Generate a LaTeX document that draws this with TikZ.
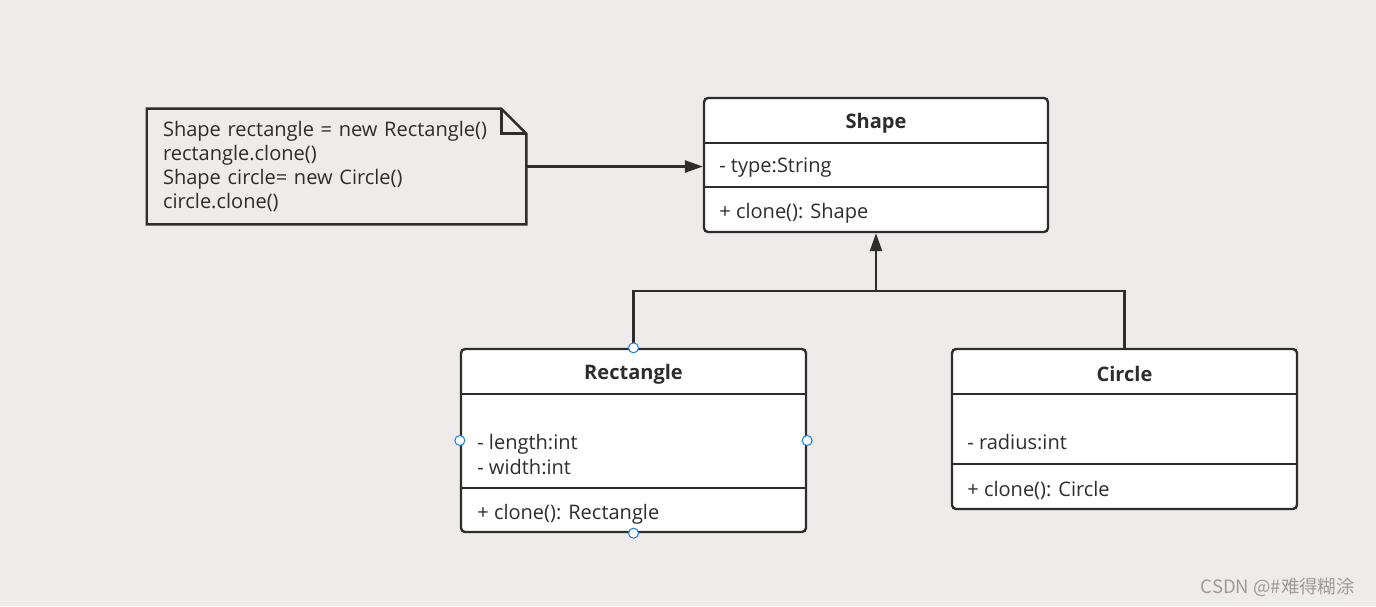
\documentclass[tikz,border=0pt]{standalone}
\usepackage{fontspec}
\setmainfont{Open Sans}
\newfontfamily\cjkfont{Noto Sans CJK SC}
\usetikzlibrary{arrows.meta}

\definecolor{fon}{RGB}{239,235,234}
\definecolor{liniya}{RGB}{45,45,45}
\definecolor{ruchka}{RGB}{30,130,230}
\definecolor{podpis}{RGB}{155,155,155}

\tikzset{
	klass/.style={draw=liniya, fill=white, line width=1.35pt, rounded corners=0.08cm, inner sep=0pt},
	razdel/.style={draw=liniya, line width=1.35pt},
	zagolovok/.style={text=liniya, yshift=-0.04cm, font=\bfseries\fontsize{11.4}{13.7}\selectfont},
	pole/.style={text=liniya, anchor=west, align=left, inner sep=0pt, yshift=-0.04cm, font=\fontsize{11.4}{13.7}\selectfont},
	svyaz/.style={draw=liniya, line width=1.35pt},
	strelka/.style={svyaz, -{Triangle[length=0.36cm, width=0.24cm]}},
	ruchki/.style={draw=ruchka, fill=white, line width=0.6pt}
}

\begin{document}
\begin{tikzpicture}[x=0.02cm, y=-0.02cm]
					% Фон и границы рисунка
					\fill[fon] (0,0) rectangle (1376,606);
					\useasboundingbox (0,0) rectangle (1376,606);
					
					% Заметка с кодом клиента
					\node[pole, anchor=center, minimum width=7.58cm, minimum height=2.30cm, text width=6.94cm] (zametka) at (336.5,164.5)
						{Shape rectangle = new Rectangle()\\rectangle.clone()\\Shape circle= new Circle()\\circle.clone()};
					\draw[svyaz] (zametka.north west) -- ([xshift=-0.5cm]zametka.north east) -- ([yshift=-0.5cm]zametka.north east)
						-- (zametka.south east) -- (zametka.south west) -- cycle;
					\draw[svyaz] ([xshift=-0.5cm]zametka.north east) |- ([yshift=-0.5cm]zametka.north east);
					
					% Класс Shape
					\node[klass, minimum width=6.88cm, minimum height=2.68cm] (shape) at (876,165) {};
					\draw[razdel] (shape.west |- 0,143) -- (shape.east |- 0,143);
					\draw[razdel] (shape.west |- 0,187) -- (shape.east |- 0,187);
					\node[zagolovok] (shapeimya) at (876,121) {Shape};
					\node[pole] (shapepole) at (719,166) {- type:String};
					\node[pole] (shapemetod) at (719,211) {+ clone(): Shape};
					
					% Класс Rectangle
					\node[klass, minimum width=6.90cm, minimum height=3.66cm] (rect) at (633.5,440.5) {};
					\draw[razdel] (rect.west |- 0,394) -- (rect.east |- 0,394);
					\draw[razdel] (rect.west |- 0,488) -- (rect.east |- 0,488);
					\node[zagolovok] (rectimya) at (633.5,372) {Rectangle};
					\node[pole] (rectpole) at (477,452.5) {- length:int\\- width:int};
					\node[pole] (rectmetod) at (477,512) {+ clone(): Rectangle};
					
					% Класс Circle
					\node[klass, minimum width=6.90cm, minimum height=3.20cm] (circ) at (1124.5,429) {};
					\draw[razdel] (circ.west |- 0,394) -- (circ.east |- 0,394);
					\draw[razdel] (circ.west |- 0,464) -- (circ.east |- 0,464);
					\node[zagolovok] (circimya) at (1124.5,372) {Circle};
					\node[pole] (circpole) at (967,440) {- radius:int};
					\node[pole] (circmetod) at (967,488) {+ clone(): Circle};
					
					% Связи
					\coordinate (uzel) at (876,291);
					\draw[strelka] (zametka.east) -- (zametka.east -| shape.west);
					\draw[svyaz] (rect.north) |- (uzel) -| (circ.north);
					\draw[strelka] (uzel) -- (shape.south);
					
					% Маркеры выделения
					\foreach \a in {north, west, east, south}
						\draw[ruchki] (rect.\a) circle (0.1cm);
					
					% Подпись
					\node[text=podpis, font=\cjkfont\fontsize{10.5}{12}\selectfont, anchor=east] (podpis) at (1361,587) {CSDN @\#难得糊涂};
				\end{tikzpicture}
\end{document}
